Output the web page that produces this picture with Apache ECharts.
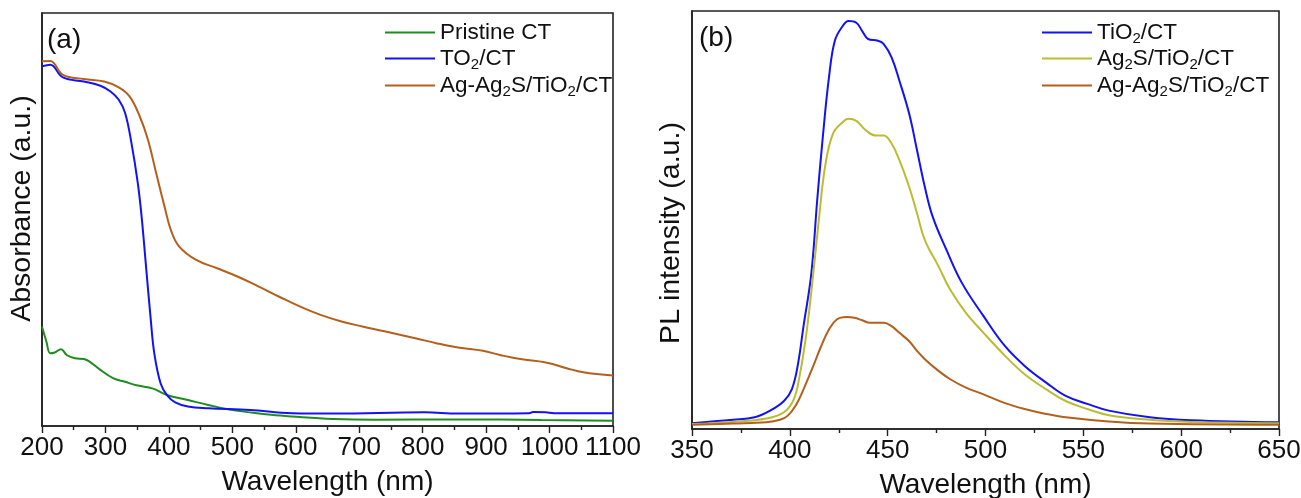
<!DOCTYPE html>
<html>
<head>
<meta charset="utf-8">
<script src="https://cdn.jsdelivr.net/npm/echarts@6/dist/echarts.min.js"></script>
<style>
html,body{margin:0;padding:0;background:#fff;}
#c{width:1301px;height:498px;}
</style>
</head>
<body>
<div id="c"></div>
<script>
// ---------- Panel (a): UV-Vis absorbance ----------
const absTicks = [200, 300, 400, 500, 600, 700, 800, 900, 1000, 1100];

const pristineX = [200, 207, 213, 220, 230, 239, 252, 266, 275, 292, 312, 331, 351, 374, 397, 430, 462, 495, 528, 561, 594, 659, 725, 856, 987, 1100];
const pristineY = [24.1, 20.4, 17.6, 17.8, 18.6, 17.2, 16.4, 16.2, 15.6, 13.6, 11.6, 10.7, 9.8, 9.1, 7.5, 6.3, 5.1, 4.0, 3.3, 2.7, 2.3, 1.7, 1.5, 1.6, 1.45, 1.3];

const tio2X = [200, 213, 233, 266, 292, 308, 321, 331, 341, 351, 357, 364, 371, 377, 387, 397, 410, 430, 462, 528, 594, 659, 803, 856, 968, 974, 994, 1007, 1100];
const tio2Y = [87.1, 87.5, 84.4, 83.4, 82.4, 81.0, 79.0, 75.8, 68.5, 58.8, 50.7, 38.6, 26.5, 17.6, 10.3, 7.5, 5.7, 4.7, 4.3, 3.9, 3.1, 3.0, 3.3, 3.0, 3.1, 3.4, 3.3, 3.1, 3.1];

const agAbsX = [200, 213, 233, 266, 298, 321, 338, 354, 367, 380, 393, 403, 416, 443, 476, 508, 541, 574, 607, 639, 672, 705, 738, 790, 823, 856, 895, 922, 954, 994, 1027, 1053, 1100];
const agAbsY = [88.3, 88.4, 85.0, 84.0, 83.4, 82.0, 79.8, 75.0, 69.3, 61.2, 53.2, 47.5, 43.5, 40.2, 38.2, 36.2, 33.8, 31.3, 28.9, 26.9, 25.3, 24.1, 23.0, 21.2, 20.0, 19.0, 18.2, 17.2, 16.2, 15.4, 14.0, 13.0, 12.2];

// ---------- Panel (b): PL spectra ----------
const plTicks = [350, 400, 450, 500, 550, 600, 650];

const plTio2X = [350, 371, 382, 390, 397, 401, 404, 407, 411, 414, 417, 420, 423, 427, 430, 434, 437, 440, 445, 448, 452, 456, 461, 465, 469, 473, 480, 488, 499, 510, 520, 531, 541, 552, 563, 584, 605, 650];
const plTio2Y = [1.4, 2.2, 2.8, 4.4, 6.7, 9.5, 15.1, 24.6, 37.3, 54.8, 70.6, 84.1, 92.9, 96.4, 97.6, 97.2, 95.2, 93.3, 92.9, 92.1, 88.9, 83.3, 75.4, 66.7, 57.9, 50.8, 42.9, 34.9, 27.0, 19.8, 15.1, 11.1, 7.9, 6.0, 4.4, 2.8, 2.1, 1.6];

const plAg2sX = [350, 371, 388, 397, 402, 405, 408.5, 412, 415, 418, 422, 427, 430, 434, 439, 444, 448, 452, 456, 461, 465, 469, 476, 482, 490, 499, 510, 520, 531, 541, 552, 563, 584, 605, 650];
const plAg2sY = [1.2, 1.7, 2.5, 4.0, 7.1, 12.7, 23.0, 37.3, 50.8, 62.7, 70.6, 73.4, 74.2, 73.7, 71.4, 70.2, 70.2, 68.3, 64.3, 57.9, 51.6, 45.2, 38.9, 33.3, 27.8, 23.0, 17.5, 13.1, 9.5, 6.7, 4.8, 3.3, 2.2, 1.7, 1.4];

const plAgX = [350, 371, 388, 395, 399, 403, 407, 412, 416, 420, 424, 429, 433, 437, 441, 448, 452, 456, 461, 465, 469, 476, 482, 490, 499, 510, 520, 531, 541, 563, 584, 650];
const plAgY = [1.0, 1.3, 1.6, 2.2, 3.2, 5.6, 9.5, 15.1, 19.8, 23.8, 26.2, 26.8, 26.6, 26.0, 25.4, 25.4, 24.6, 23.0, 21.0, 18.7, 16.7, 13.9, 11.9, 9.9, 8.3, 6.2, 4.8, 3.6, 2.8, 1.8, 1.3, 1.0];

// legend display names (with subscripts)
const legendLabels = {
  'Pristine CT': 'Pristine CT',
  'TO2/CT': 'TO{s|2}/CT',
  'Ag-Ag2S/TiO2/CT (a)': 'Ag-Ag{s|2}S/TiO{s|2}/CT',
  'TiO2/CT': 'TiO{s|2}/CT',
  'Ag2S/TiO2/CT': 'Ag{s|2}S/TiO{s|2}/CT',
  'Ag-Ag2S/TiO2/CT (b)': 'Ag-Ag{s|2}S/TiO{s|2}/CT'
};

const C_GREEN = '#1f8c1f', C_BLUE = '#1212f5', C_BROWN = '#b4601c', C_YEL = '#bcbc32';
const AX = '#222';
const SANS = "'Liberation Sans', Arial, sans-serif";

function zip(xs, ys) { return xs.map((x, i) => [x, ys[i]]); }

function legendItem(name, left, top) {
  return {
    data: [name], orient: 'vertical', left: left, top: top, padding: 0,
    itemWidth: 50, itemHeight: 2, icon: 'rect',
    formatter: n => legendLabels[n],
    textStyle: {
      fontFamily: SANS, fontSize: 22.5, color: '#111', lineHeight: 27,
      rich: { s: { fontFamily: SANS, fontSize: 15, color: '#111', verticalAlign: 'bottom', lineHeight: 13 } }
    }
  };
}

function xAxisCfg(grid, min, max, interval, nameGap, margin) {
  return {
    type: 'value', gridIndex: grid, min: min, max: max, interval: interval,
    name: 'Wavelength (nm)', nameLocation: 'middle', nameGap: nameGap,
    nameTextStyle: { fontFamily: SANS, fontSize: 28, color: '#111' },
    axisLine: { show: true, onZero: false, lineStyle: { color: AX, width: 1.6 } },
    axisTick: { show: true, inside: false, length: 7, lineStyle: { color: AX, width: 1.4 } },
    minorTick: { show: true, splitNumber: 2, length: 4, lineStyle: { color: AX, width: 1.4 } },
    axisLabel: { fontFamily: SANS, fontSize: 26, color: '#111', margin: margin,
                 hideOverlap: false, showMinLabel: true, showMaxLabel: true,
                 formatter: v => String(v) },
    splitLine: { show: false }, minorSplitLine: { show: false }
  };
}

function yAxisCfg(grid, name, gap, pad) {
  return {
    type: 'value', gridIndex: grid, min: 0, max: 100,
    name: name, nameLocation: 'middle', nameGap: gap,
    nameTextStyle: { fontFamily: SANS, fontSize: 28.5, color: '#111', padding: pad },
    axisLine: { show: true, lineStyle: { color: AX, width: 1.6 } },
    axisTick: { show: false }, axisLabel: { show: false }, splitLine: { show: false }
  };
}

function lineSeries(name, legendName, xi, yi, xs, ys, color) {
  return {
    name: legendName, type: 'line', xAxisIndex: xi, yAxisIndex: yi,
    data: zip(xs, ys), showSymbol: false, smooth: 0.4, silent: true,
    lineStyle: { color: color, width: 2 }, itemStyle: { color: color }
  };
}

const chart = echarts.init(document.getElementById('c'), null, { renderer: 'canvas' });
chart.setOption({
  animation: false,
  backgroundColor: '#fff',
  title: [
    { text: '(a)', left: 47, top: 26, padding: 0, textStyle: { fontFamily: SANS, fontSize: 28, fontWeight: 'normal', color: '#111' } },
    { text: '(b)', left: 699, top: 24, padding: 0, textStyle: { fontFamily: SANS, fontSize: 28, fontWeight: 'normal', color: '#111' } }
  ],
  grid: [
    { left: 42, right: 688, top: 13, bottom: 72, containLabel: false, outerBoundsMode: 'none',
      show: true, borderColor: AX, borderWidth: 1.6, backgroundColor: 'transparent' },
    { left: 692, right: 22, top: 11, bottom: 69, containLabel: false, outerBoundsMode: 'none',
      show: true, borderColor: AX, borderWidth: 1.6, backgroundColor: 'transparent' }
  ],
  xAxis: [
    xAxisCfg(0, 200, 1100, 100, 42, 9),
    xAxisCfg(1, 350, 650, 50, 42, 9)
  ],
  yAxis: [
    yAxisCfg(0, 'Absorbance (a.u.)', 5, [0, 0, 0, 22]),
    yAxisCfg(1, 'PL intensity (a.u.)', 6, [0, 26, 0, 0])
  ],
  legend: [
    legendItem('Pristine CT', 385, 19),
    legendItem('TO2/CT', 385, 45),
    legendItem('Ag-Ag2S/TiO2/CT (a)', 385, 72),
    legendItem('TiO2/CT', 1042, 19),
    legendItem('Ag2S/TiO2/CT', 1042, 45),
    legendItem('Ag-Ag2S/TiO2/CT (b)', 1042, 72)
  ],
  series: [
    lineSeries('a', 'Pristine CT', 0, 0, pristineX, pristineY, C_GREEN),
    lineSeries('a', 'TO2/CT', 0, 0, tio2X, tio2Y, C_BLUE),
    lineSeries('a', 'Ag-Ag2S/TiO2/CT (a)', 0, 0, agAbsX, agAbsY, C_BROWN),
    lineSeries('b', 'TiO2/CT', 1, 1, plTio2X, plTio2Y, C_BLUE),
    lineSeries('b', 'Ag2S/TiO2/CT', 1, 1, plAg2sX, plAg2sY, C_YEL),
    lineSeries('b', 'Ag-Ag2S/TiO2/CT (b)', 1, 1, plAgX, plAgY, C_BROWN)
  ]
});
</script>
</body>
</html>
